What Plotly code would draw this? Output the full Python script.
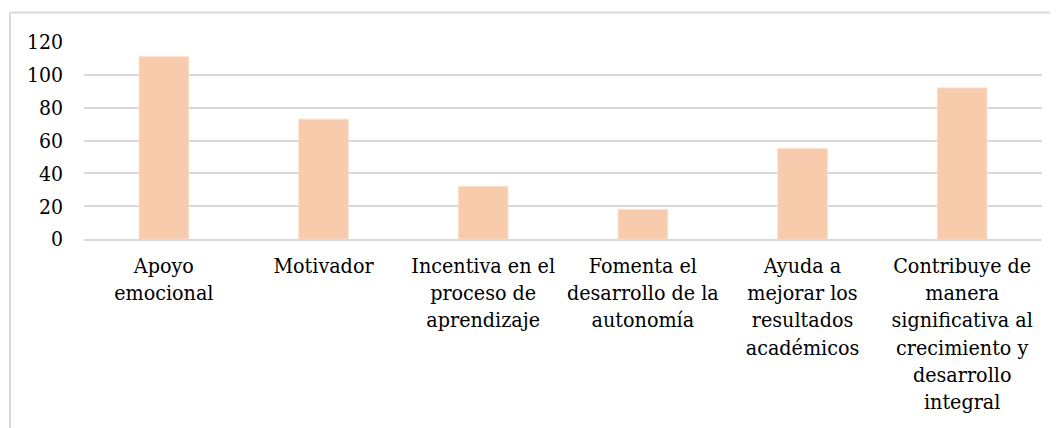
import plotly.graph_objects as go

categories = [
    "Apoyo<br>emocional",
    "Motivador",
    "Incentiva en el<br>proceso de<br>aprendizaje",
    "Fomenta el<br>desarrollo de la<br>autonomía",
    "Ayuda a<br>mejorar los<br>resultados<br>académicos",
    "Contribuye de<br>manera<br>significativa al<br>crecimiento y<br>desarrollo<br>integral",
]
values = [111, 73, 32, 18, 55, 92]
y_ticks = [0, 20, 40, 60, 80, 100, 120]

BAR_COLOR = "#F8CBAD"
GRID = "#D9D9D9"
FONT = "DejaVu Serif Condensed"

OFF = 8
W, H = 1058 - OFF, 428 - OFF
L = 84 - OFF
T = 41.7 - OFF
R = 1058 - 1042
B = 428 - 239.5


def styled(label):
    return "<br>".join(
        f'<span style="font-size:21.3px">{part}</span>' for part in label.split("<br>")
    )


fig = go.Figure(
    go.Bar(
        x=categories,
        y=values,
        marker=dict(color=BAR_COLOR, line=dict(color="#FBDCC8", width=1)),
        width=0.31,
    )
)

pw = W - L - R
ph = H - T - B
px = lambda p: (p - OFF - L) / pw
py = lambda p: (H - B - (p - OFF)) / ph

fig.update_layout(
    width=W,
    height=H,
    margin=dict(l=L, r=R, t=T, b=B, pad=0),
    paper_bgcolor="white",
    plot_bgcolor="white",
    showlegend=False,
    font=dict(family=FONT, color="#000000", size=21),
    xaxis=dict(
        tickmode="array",
        tickvals=categories,
        ticktext=[styled(c) for c in categories],
        tickfont=dict(size=20.9, family=FONT, color="#000000"),
        showgrid=False,
        showline=True,
        linecolor=GRID,
        linewidth=2,
        ticks="",
        tickangle=0,
        ticklabelstandoff=7,
        fixedrange=True,
    ),
    yaxis=dict(
        range=[0, 120],
        tickmode="array",
        tickvals=y_ticks,
        ticktext=[str(v) for v in y_ticks],
        tickfont=dict(size=21, family=FONT, color="#000000"),
        showgrid=True,
        gridcolor=GRID,
        gridwidth=2,
        zeroline=False,
        showline=False,
        ticks="",
        ticklabelstandoff=20,
        fixedrange=True,
    ),
    shapes=[
        dict(type="line", xref="paper", yref="paper", x0=px(10), x1=px(1070),
             y0=py(12), y1=py(12), line=dict(color=GRID, width=2)),
        dict(type="line", xref="paper", yref="paper", x0=px(10), x1=px(10),
             y0=py(12), y1=py(440), line=dict(color=GRID, width=2)),
    ],
)

fig.write_html("out.html", config={"displayModeBar": False})
